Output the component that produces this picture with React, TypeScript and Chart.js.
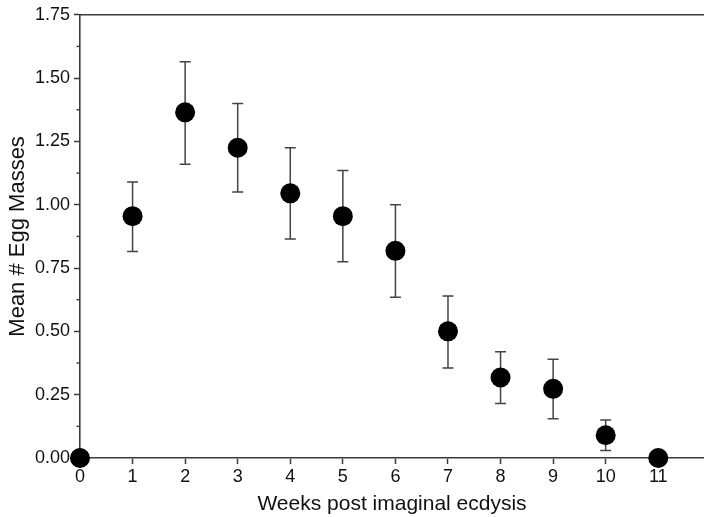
import React, { useEffect, useRef } from "react";
import { Chart, registerables } from "chart.js";

Chart.register(...registerables);

const weeks = [0, 1, 2, 3, 4, 5, 6, 7, 8, 9, 10, 11];
const meanEggMasses = [0, 0.955, 1.365, 1.225, 1.045, 0.955, 0.818, 0.5, 0.318, 0.273, 0.09, 0];
const errUpper = [0, 0.135, 0.2, 0.175, 0.18, 0.18, 0.182, 0.14, 0.102, 0.117, 0.06, 0];
const errLower = [0, 0.14, 0.205, 0.175, 0.18, 0.18, 0.183, 0.145, 0.103, 0.118, 0.06, 0];
const xTicks = [0, 1, 2, 3, 4, 5, 6, 7, 8, 9, 10, 11];
const yTicks = [0, 0.25, 0.5, 0.75, 1.0, 1.25, 1.5, 1.75];
const yMinorTicks = [0.125, 0.375, 0.625, 0.875, 1.125, 1.375, 1.625];

const AXIS_COLOR = "#3a3a3a";
const FONT = "Liberation Sans, Arial, sans-serif";

const decorPlugin = {
  id: "decor",
  beforeDatasetsDraw(chart: any) {
    const { ctx, chartArea, scales } = chart;
    const xs = scales.x;
    const ys = scales.y;
    ctx.save();
    ctx.strokeStyle = AXIS_COLOR;
    ctx.lineWidth = 1.6;
    ctx.beginPath();
    ctx.moveTo(chartArea.left, chartArea.top);
    ctx.lineTo(chartArea.right, chartArea.top);
    ctx.stroke();
    ctx.lineWidth = 1.4;
    yMinorTicks.forEach((v) => {
      const py = ys.getPixelForValue(v);
      ctx.beginPath();
      ctx.moveTo(chartArea.left - 3.5, py);
      ctx.lineTo(chartArea.left, py);
      ctx.stroke();
    });
    ctx.strokeStyle = "#444";
    ctx.lineWidth = 1.5;
    weeks.forEach((w, i) => {
      if (errUpper[i] === 0 && errLower[i] === 0) return;
      const px = xs.getPixelForValue(w);
      const hi = ys.getPixelForValue(meanEggMasses[i] + errUpper[i]);
      const lo = ys.getPixelForValue(meanEggMasses[i] - errLower[i]);
      ctx.beginPath();
      ctx.moveTo(px, hi);
      ctx.lineTo(px, lo);
      ctx.moveTo(px - 5.5, hi);
      ctx.lineTo(px + 5.5, hi);
      ctx.moveTo(px - 5.5, lo);
      ctx.lineTo(px + 5.5, lo);
      ctx.stroke();
    });
    ctx.restore();
  },
};

export default function App() {
  const ref = useRef<HTMLCanvasElement | null>(null);
  useEffect(() => {
    if (!ref.current) return;
    const chart = new Chart(ref.current, {
      type: "scatter",
      data: {
        datasets: [
          {
            data: weeks.map((w, i) => ({ x: w, y: meanEggMasses[i] })),
            backgroundColor: "#000",
            borderColor: "#000",
            pointRadius: 10,
            pointHoverRadius: 10,
            borderWidth: 0,
            clip: false as any,
          },
        ],
      },
      options: {
        animation: false,
        responsive: true,
        maintainAspectRatio: false,
        layout: { autoPadding: false, padding: { top: 14, right: 0, left: 0, bottom: 0 } },
        plugins: { legend: { display: false }, tooltip: { enabled: false } },
        scales: {
          x: {
            type: "linear",
            min: 0,
            max: 11.87,
            afterBuildTicks: (s: any) => {
              s.ticks = xTicks.map((v) => ({ value: v }));
            },
            afterFit: (s: any) => {
              s.height = 59;
              s.paddingRight = 0;
              s.paddingLeft = 0;
            },
            grid: { drawOnChartArea: false, drawTicks: true, tickLength: 6, tickColor: AXIS_COLOR, tickWidth: 1.5 },
            border: { display: true, color: AXIS_COLOR, width: 1.6 },
            ticks: {
              color: "#111",
              font: { family: FONT, size: 18 },
              padding: 2,
              maxRotation: 0,
              autoSkip: false,
              callback: (v: any) => String(v),
            },
            title: {
              display: true,
              text: "Weeks post imaginal ecdysis",
              color: "#111",
              font: { family: FONT, size: 21 },
              padding: { top: 0, bottom: 0 },
            },
          },
          y: {
            type: "linear",
            min: 0,
            max: 1.75,
            afterBuildTicks: (s: any) => {
              s.ticks = yTicks.map((v) => ({ value: v }));
            },
            afterFit: (s: any) => {
              s.width = 80;
            },
            grid: { drawOnChartArea: false, drawTicks: true, tickLength: 6, tickColor: AXIS_COLOR, tickWidth: 1.5 },
            border: { display: true, color: AXIS_COLOR, width: 1.6 },
            ticks: {
              color: "#111",
              font: { family: FONT, size: 18 },
              padding: 4,
              autoSkip: false,
              callback: (v: any) => Number(v).toFixed(2),
            },
            title: {
              display: true,
              text: "Mean # Egg Masses",
              color: "#111",
              font: { family: FONT, size: 22 },
              padding: { top: 5, bottom: 0 },
            },
          },
        },
      },
      plugins: [decorPlugin],
    });
    return () => chart.destroy();
  }, []);
  return (
    <div style={{ position: "absolute", left: 0, top: 0, width: 704, height: 517, background: "#fff" }}>
      <canvas ref={ref} />
    </div>
  );
}
